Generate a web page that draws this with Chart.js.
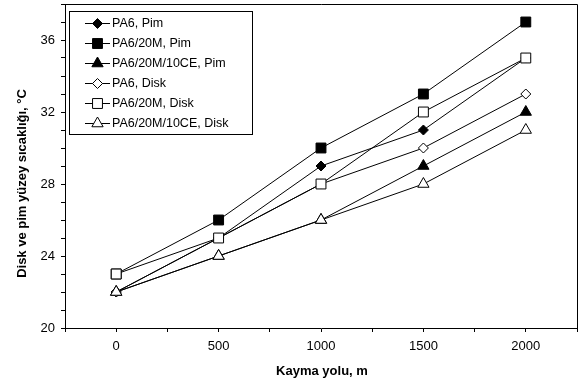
<!DOCTYPE html>
<html>
<head>
<meta charset="utf-8">
<script src="https://cdn.jsdelivr.net/npm/chart.js@4.4.1/dist/chart.umd.min.js"></script>
<style>
  html, body { margin: 0; padding: 0; background: #fff; }
  #wrap { width: 578px; height: 383px; }
</style>
</head>
<body>
<div id="wrap"><canvas id="myChart" width="578" height="383"></canvas></div>
<script>
// kayma yolu (m) ve sicaklik degerleri
const distances = [0, 500, 1000, 1500, 2000];
const pa6Pim = [22, 25, 29, 31, 35];
const pa620mPim = [23, 26, 30, 33, 37];
const pa620m10cePim = [22, 24, 26, 29, 32];
const pa6Disk = [22, 25, 28, 30, 33];
const pa620mDisk = [23, 25, 28, 32, 35];
const pa620m10ceDisk = [22, 24, 26, 28, 31];
const seriesNames = ['PA6, Pim', 'PA6/20M, Pim', 'PA6/20M/10CE, Pim', 'PA6, Disk', 'PA6/20M, Disk', 'PA6/20M/10CE, Disk'];
const xTickLabels = [0, 500, 1000, 1500, 2000];
const yTickLabels = [20, 24, 28, 32, 36];
const xTitle = 'Kayma yolu, m';
const yTitle = 'Disk ve pim yüzey sıcaklığı, °C';

const FONT = '"Liberation Sans", Arial, sans-serif';
const allSeries = [pa6Pim, pa620mPim, pa620m10cePim, pa6Disk, pa620mDisk, pa620m10ceDisk];
const markers = [
  { style: 'rectRot', radius: 5, fill: '#000' },
  { style: 'rect', radius: 7, fill: '#000' },
  { style: 'triangle', radius: 6.5, fill: '#000' },
  { style: 'rectRot', radius: 5, fill: '#fff' },
  { style: 'rect', radius: 7, fill: '#fff' },
  { style: 'triangle', radius: 6.5, fill: '#fff' }
];

const datasets = allSeries.map((values, i) => ({
  label: seriesNames[i],
  data: values.map((v, k) => ({ x: distances[k], y: v })),
  borderColor: '#000',
  borderWidth: 1,
  pointStyle: markers[i].style,
  pointRadius: markers[i].radius,
  pointBackgroundColor: markers[i].fill,
  pointBorderColor: '#000',
  pointBorderWidth: 1,
  tension: 0,
  clip: false,
  order: allSeries.length - i // later series on top
}));

// cerceve, eksen basliklari ve lejant
const extras = {
  id: 'extras',
  afterDraw(chart) {
    const ctx = chart.ctx;
    const a = chart.chartArea;
    ctx.save();
    ctx.strokeStyle = '#000';
    ctx.lineWidth = 1;
    ctx.beginPath();
    ctx.moveTo(a.left, a.top + 0.5);
    ctx.lineTo(a.right + 0.5, a.top + 0.5);
    ctx.lineTo(a.right + 0.5, a.bottom);
    ctx.stroke();

    // lejant
    ctx.fillStyle = '#fff';
    ctx.fillRect(69.5, 11.5, 183, 123);
    ctx.strokeRect(69.5, 11.5, 183, 123);
    chart.data.datasets.forEach((ds, i) => {
      const y = 22.7 + i * 20.1;
      ctx.strokeStyle = '#000';
      ctx.beginPath();
      ctx.moveTo(85, Math.round(y) + 0.5);
      ctx.lineTo(110, Math.round(y) + 0.5);
      ctx.stroke();
      ctx.fillStyle = ds.pointBackgroundColor;
      Chart.helpers.drawPoint(ctx, {
        pointStyle: ds.pointStyle,
        radius: ds.pointRadius,
        borderWidth: 1,
        rotation: 0
      }, 97.5, Math.round(y) + 0.5);
      ctx.fillStyle = '#000';
      ctx.font = '12.5px ' + FONT;
      ctx.textAlign = 'left';
      ctx.textBaseline = 'middle';
      ctx.fillText(ds.label, 112, y + 0.5);
    });

    // eksen basliklari
    ctx.fillStyle = '#000';
    ctx.font = 'bold 13px ' + FONT;
    ctx.textAlign = 'center';
    ctx.textBaseline = 'middle';
    ctx.fillText(xTitle, 322, 371);
    ctx.translate(22, 183.5);
    ctx.rotate(-Math.PI / 2);
    ctx.fillText(yTitle, 0, 0);
    ctx.restore();
  }
};

const ctx = document.getElementById('myChart').getContext('2d');
window.myLineChart = new Chart(ctx, {
  type: 'line',
  data: { datasets: datasets },
  plugins: [extras],
  options: {
    responsive: false,
    animation: false,
    devicePixelRatio: 1,
    layout: {
      autoPadding: false,
      padding: { top: 4, right: 1, left: 0, bottom: 0 }
    },
    plugins: {
      legend: { display: false },
      tooltip: { enabled: false }
    },
    scales: {
      x: {
        type: 'linear',
        min: -250,
        max: 2250,
        afterFit: scale => {
          scale.height = 55;
          scale.paddingLeft = 0;
          scale.paddingRight = 0;
        },
        border: { color: '#000', width: 1 },
        grid: { drawOnChartArea: false, color: '#000', tickColor: '#000', tickLength: 4 },
        ticks: {
          stepSize: 250,
          autoSkip: false,
          maxRotation: 0,
          padding: 7,
          color: '#000',
          font: { family: FONT, size: 13 },
          callback: v => xTickLabels.includes(v) ? String(v) : ''
        }
      },
      y: {
        min: 20,
        max: 38,
        afterFit: scale => {
          scale.width = 65;
          scale.paddingTop = 0;
          scale.paddingBottom = 0;
        },
        border: { color: '#000', width: 1 },
        grid: { drawOnChartArea: false, color: '#000', tickColor: '#000', tickLength: 4 },
        ticks: {
          stepSize: 1,
          autoSkip: false,
          padding: 6,
          color: '#000',
          font: { family: FONT, size: 13 },
          callback: v => yTickLabels.includes(v) ? String(v) : ''
        }
      }
    }
  }
});
</script>
</body>
</html>
